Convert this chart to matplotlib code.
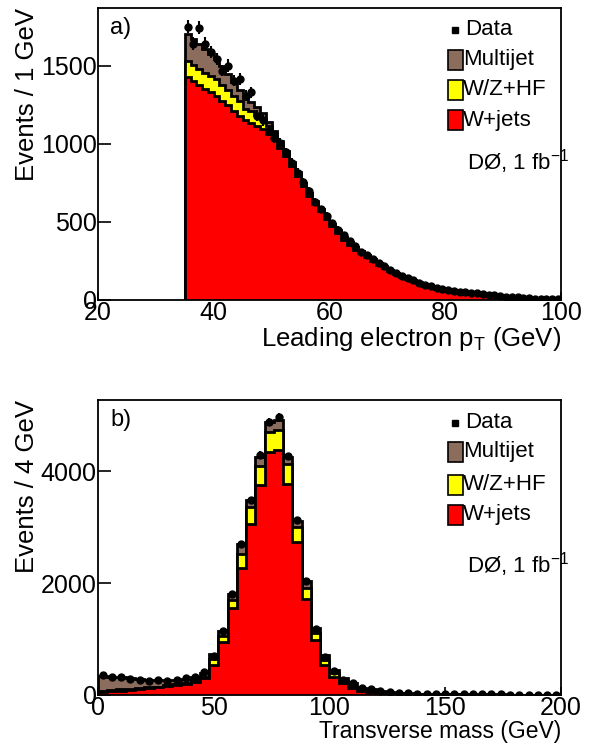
import numpy as np
import matplotlib.pyplot as plt
from matplotlib.patches import Rectangle

plt.rcParams['font.family'] = ['Liberation Sans', 'DejaVu Sans']
plt.rcParams['mathtext.fontset'] = 'custom'
plt.rcParams['mathtext.rm'] = 'Liberation Sans'

# a) leading electron pT, 1 GeV bins from 35 to 100
pt_edges = np.arange(35, 101, 1)
pt_wjets = [1427, 1400, 1375, 1350, 1330, 1308, 1275, 1245, 1210, 1180,
            1150, 1135, 1115, 1094, 1062, 1030, 975, 922, 858, 793,
            728, 665, 615, 568, 520, 472, 428, 386, 352, 322,
            299, 276, 249, 226, 204, 183, 164, 145, 134, 123,
            107, 92, 82, 73, 66, 61, 55, 50, 47, 44,
            42, 38, 33, 29, 24, 20, 17, 14, 12, 9,
            7, 6, 5, 5, 4]
pt_hf = [106, 106, 106, 106, 106, 106, 102, 98, 95, 91,
         75, 72, 70, 66, 53, 40, 32, 27, 22, 20,
         19, 18, 15, 12, 13, 15, 16, 16, 16, 15,
         14, 12, 11, 10, 9, 8, 7, 6, 5, 5,
         4, 4, 3, 3, 3, 2, 2, 2, 2, 2,
         2, 1, 1, 1, 1, 1, 1, 1, 0, 0,
         0, 0, 0, 0, 0]
pt_multijet = [172, 164, 159, 149, 139, 130, 118, 102, 90, 74,
               70, 58, 50, 40, 25, 12, 8, 6, 5, 4,
               3, 3, 2, 2, 2, 2, 2, 2, 2, 2,
               2, 2, 2, 2, 2, 2, 1, 1, 1, 1,
               1, 1, 1, 1, 1, 1, 1, 1, 1, 1,
               1, 1, 1, 0, 0, 0, 0, 0, 0, 0,
               0, 0, 0, 0, 0]
pt_data = [1748, 1641, 1742, 1641, 1587, 1544, 1469, 1501, 1405, 1416,
           1308, 1330, 1180, 1150, 1083, 1040, 1008, 945, 880, 815,
           755, 695, 630, 580, 540, 490, 450, 415, 375, 345,
           310, 290, 262, 235, 215, 190, 170, 155, 140, 125,
           110, 98, 88, 78, 70, 64, 58, 54, 50, 46,
           43, 38, 34, 30, 26, 22, 18, 16, 13, 10,
           8, 7, 6, 5, 5]

# b) transverse mass, 4 GeV bins from 0 to 200
mt_edges = np.arange(0, 204, 4)
mt_wjets = [55, 65, 80, 90, 105, 120, 135, 155, 175, 200,
            235, 300, 540, 940, 1557, 2276, 3054, 3744, 4331, 4373,
            3774, 2726, 1707, 976, 539, 330, 210, 120, 80, 55,
            38, 26, 20, 15, 12, 10, 9, 8, 7, 6,
            5, 5, 4, 4, 3, 3, 3, 3, 2, 2]
mt_hf = [20, 20, 20, 20, 15, 15, 15, 15, 15, 15,
         15, 25, 100, 110, 140, 250, 300, 340, 371, 359,
         350, 280, 200, 130, 90, 60, 40, 30, 20, 15,
         10, 7, 6, 5, 4, 4, 3, 3, 3, 2,
         2, 2, 2, 1, 1, 1, 1, 1, 1, 1]
mt_multijet = [265, 240, 215, 185, 160, 125, 110, 95, 85, 75,
               70, 70, 100, 90, 100, 170, 120, 170, 168, 180,
               130, 110, 130, 90, 90, 60, 50, 60, 30, 32,
               24, 15, 12, 10, 9, 8, 7, 6, 5, 5,
               5, 4, 4, 4, 4, 4, 3, 3, 3, 3]
mt_data = [359, 329, 320, 284, 270, 258, 270, 258, 270, 300,
           329, 419, 700, 1140, 1810, 2700, 3480, 4283, 4882, 4973,
           4260, 3120, 2040, 1180, 680, 430, 270, 210, 131, 102,
           72, 48, 38, 30, 25, 22, 19, 17, 15, 13,
           12, 11, 10, 9, 8, 8, 7, 7, 6, 6]

c_multijet = '#8c6c5c'
c_hf = '#ffff00'
c_wjets = '#ff0000'


def draw_panel(ax, edges, wjets, hf, multijet, data):
    wjets = np.array(wjets)
    hf = np.array(hf)
    multijet = np.array(multijet)
    data = np.array(data)
    # stacked histograms, each layer with black outline
    ax.stairs(wjets + hf + multijet, edges, fill=True, facecolor=c_multijet,
              edgecolor='black', linewidth=2, zorder=2)
    ax.stairs(wjets + hf, edges, fill=True, facecolor=c_hf,
              edgecolor='black', linewidth=2, zorder=3)
    ax.stairs(wjets, edges, fill=True, facecolor=c_wjets,
              edgecolor='black', linewidth=2, zorder=4)
    centers = 0.5 * (edges[1:] + edges[:-1])
    ax.errorbar(centers, data, yerr=np.sqrt(data), fmt='o', color='black',
                markersize=5, elinewidth=1.5, capsize=0, zorder=5)


def draw_legend(ax, ys):
    tr = ax.transAxes
    ax.plot([0.771], [ys[0]], marker='s', color='black', markersize=4.5,
            transform=tr, clip_on=False)
    ax.text(0.793, ys[0], 'Data', transform=tr, va='center', ha='left', fontsize=16)
    for y, col, name in zip(ys[1:4], [c_multijet, c_hf, c_wjets],
                            ['Multijet', 'W/Z+HF', 'W+jets']):
        ax.add_patch(Rectangle((0.756, y - 0.034), 0.032, 0.068, transform=tr,
                               facecolor=col, edgecolor='black', linewidth=1.2))
        ax.text(0.788, y, name, transform=tr, va='center', ha='left', fontsize=16)
    ax.text(0.797, ys[4], r'DØ, 1 fb$^{\mathregular{-1}}$', transform=tr,
            va='center', ha='left', fontsize=16)


fig = plt.figure(figsize=(5.92, 7.49), dpi=100)
ax1 = fig.add_axes([0.1655, 0.5995, 0.782, 0.390])
ax2 = fig.add_axes([0.1655, 0.0721, 0.782, 0.394])

draw_panel(ax1, pt_edges, pt_wjets, pt_hf, pt_multijet, pt_data)
draw_panel(ax2, mt_edges, mt_wjets, mt_hf, mt_multijet, mt_data)

ax1.set_xlim(20, 100)
ax1.set_ylim(0, 1870)
ax1.set_xticks([20, 40, 60, 80, 100])
ax1.set_yticks([0, 500, 1000, 1500])
ax1.set_xlabel(r'Leading electron p$_{\mathregular{T}}$ (GeV)', fontsize=18.5, loc='right', labelpad=0)
ax1.set_ylabel('Events / 1 GeV', fontsize=18.5, loc='top', labelpad=1)
ax1.text(0.026, 0.93, 'a)', transform=ax1.transAxes, fontsize=17, va='center')
draw_legend(ax1, [0.925, 0.822, 0.719, 0.616, 0.473])

ax2.set_xlim(0, 200)
ax2.set_ylim(0, 5270)
ax2.set_xticks([0, 50, 100, 150, 200])
ax2.set_yticks([0, 2000, 4000])
ax2.set_xlabel('Transverse mass (GeV)', fontsize=16.5, loc='right', labelpad=0)
ax2.set_ylabel('Events / 4 GeV', fontsize=18.5, loc='top', labelpad=1)
ax2.text(0.026, 0.932, 'b)', transform=ax2.transAxes, fontsize=17, va='center')
draw_legend(ax2, [0.922, 0.824, 0.712, 0.610, 0.441])

for ax in (ax1, ax2):
    for s in ax.spines.values():
        s.set_linewidth(1.3)
        s.set_zorder(6)
    ax.tick_params(axis='x', direction='in', length=6, width=1.2, labelsize=18, pad=1)
    ax.tick_params(axis='y', direction='in', length=9, width=1.2, labelsize=18, pad=1)

fig.savefig('out.png', dpi=100)
